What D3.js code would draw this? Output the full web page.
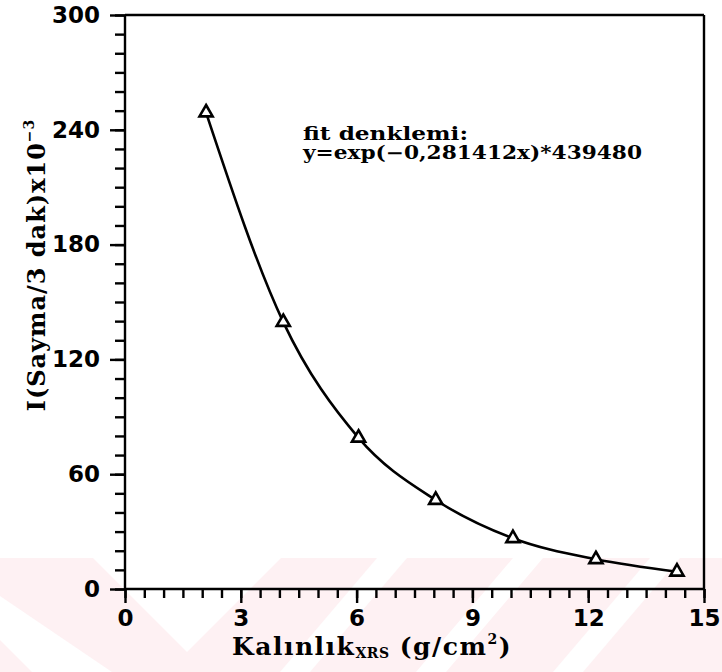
<!DOCTYPE html>
<html><head><meta charset="utf-8">
<script src="https://cdn.jsdelivr.net/npm/d3@7"></script>
<style>body{margin:0;background:#fff}</style></head>
<body><svg id="c" width="722" height="672"></svg>
<script>
// ---- data ----
const thickness = [2.1, 4.1, 6.05, 8.05, 10.05, 12.2, 14.3];   // g/cm^2
const counts    = [249, 139.5, 79, 46.5, 26.5, 15.5, 9];       // x10^3 / 3 min
const xTickLabels = [0, 3, 6, 9, 12, 15];
const yTickLabels = [0, 60, 120, 180, 240, 300];
const fitLines = ["fit  denklemi:", "y=exp(\u22120,281412x)*439480"];

const svg = d3.select("#c");
const W = 722, H = 672;
const x = d3.scaleLinear().domain([0, 15]).range([125, 704]);
const y = d3.scaleLinear().domain([0, 300]).range([589, 15]);

// ---- faint pink watermark at the bottom ----
const wm = svg.append("g");
wm.append("rect").attr("x",0).attr("y",558).attr("width",W).attr("height",H-558).attr("fill","#fef1f3");
const whitePolys = [
  [[93,558],[281,558],[187,652]],
  [[0,596],[0,640],[32,672],[112,672]],
  [[377,558],[407,558],[310,672],[280,672]],
  [[513,558],[543,558],[446,672],[416,672]],
  [[650,558],[680,558],[583,672],[553,672]]
];
whitePolys.forEach(p => wm.append("polygon").attr("points", p.map(d=>d.join(",")).join(" ")).attr("fill","#fff"));

const tickFont = "'DejaVu Sans', sans-serif";
const serif = "'DejaVu Serif', serif";

// ---- axes ----
function styleAxis(g){
  g.selectAll("path").remove();
  g.selectAll("line").attr("stroke","#000").attr("stroke-width",2.4);
  g.selectAll("text").attr("font-family",tickFont).attr("font-weight","bold").attr("font-size",23).attr("fill","#000");
}
svg.append("g").attr("transform",`translate(0,${y(0)})`)
  .call(d3.axisBottom(x).tickValues(d3.range(0,15.001,0.5)).tickSize(9).tickFormat("")).call(styleAxis);
svg.append("g").attr("transform",`translate(0,${y(0)})`)
  .call(d3.axisBottom(x).tickValues(xTickLabels).tickSize(14).tickPadding(7).tickFormat(d3.format("d"))).call(styleAxis);
svg.append("g").attr("transform",`translate(${x(0)},0)`)
  .call(d3.axisLeft(y).tickValues(d3.range(0,300.001,10)).tickSize(10).tickFormat("")).call(styleAxis);
svg.append("g").attr("transform",`translate(${x(0)},0)`)
  .call(d3.axisLeft(y).tickValues(yTickLabels).tickSize(15).tickPadding(10).tickFormat(d3.format("d"))).call(styleAxis);

// frame lines
const frame = svg.append("g").attr("stroke","#000").attr("stroke-width",2.4).attr("fill","none");
frame.append("line").attr("x1",x(0)).attr("x2",x(15)).attr("y1",y(0)).attr("y2",y(0));
frame.append("line").attr("x1",x(0)).attr("x2",x(0)).attr("y1",y(0)).attr("y2",y(300));
frame.append("line").attr("x1",x(0)).attr("x2",x(15)).attr("y1",y(300)).attr("y2",y(300));
frame.append("line").attr("x1",x(15)).attr("x2",x(15)).attr("y1",y(300)).attr("y2",y(0));

// ---- curve + markers ----
const pts = thickness.map((t,i)=>[t,counts[i]]);
svg.append("path").datum(pts)
  .attr("d", d3.line().x(d=>x(d[0])).y(d=>y(d[1])).curve(d3.curveMonotoneX))
  .attr("fill","none").attr("stroke","#000").attr("stroke-width",2.6);
svg.selectAll(".m").data(pts).enter().append("path")
  .attr("transform",d=>`translate(${x(d[0])},${y(d[1])})`)
  .attr("d", d3.symbol().type(d3.symbolTriangle).size(75))
  .attr("fill","#fff").attr("stroke","#000").attr("stroke-width",2.6);

// ---- fit annotation ----
const ann = svg.append("g").attr("font-family",serif).attr("font-weight","bold").attr("font-size",18).attr("fill","#000");
ann.append("text").attr("x",303).attr("y",140).attr("textLength",165).attr("lengthAdjust","spacingAndGlyphs").text(fitLines[0]);
ann.append("text").attr("x",303).attr("y",159).attr("textLength",339).attr("lengthAdjust","spacingAndGlyphs").text(fitLines[1]);

// ---- axis titles ----
const xt = svg.append("text").attr("x",372).attr("y",655).attr("text-anchor","middle")
  .attr("font-family",serif).attr("font-weight","bold").attr("font-size",25).attr("letter-spacing",1.5).attr("fill","#000");
xt.append("tspan").text("Kalınlık");
xt.append("tspan").attr("font-size",14).attr("letter-spacing",0.5).attr("dy",3).text("XRS");
xt.append("tspan").attr("dy",-3).text(" (g/cm");
xt.append("tspan").attr("font-size",14).attr("dy",-11).text("2");
xt.append("tspan").attr("dy",11).text(")");

const yt = svg.append("text").attr("transform","translate(45,265) rotate(-90)").attr("text-anchor","middle")
  .attr("font-family",serif).attr("font-weight","bold").attr("font-size",24).attr("letter-spacing",1).attr("fill","#000");
yt.append("tspan").text("I(Sayma/3  dak)x10");
yt.append("tspan").attr("font-size",14).attr("dy",-11).text("\u22123");
</script></body></html>
